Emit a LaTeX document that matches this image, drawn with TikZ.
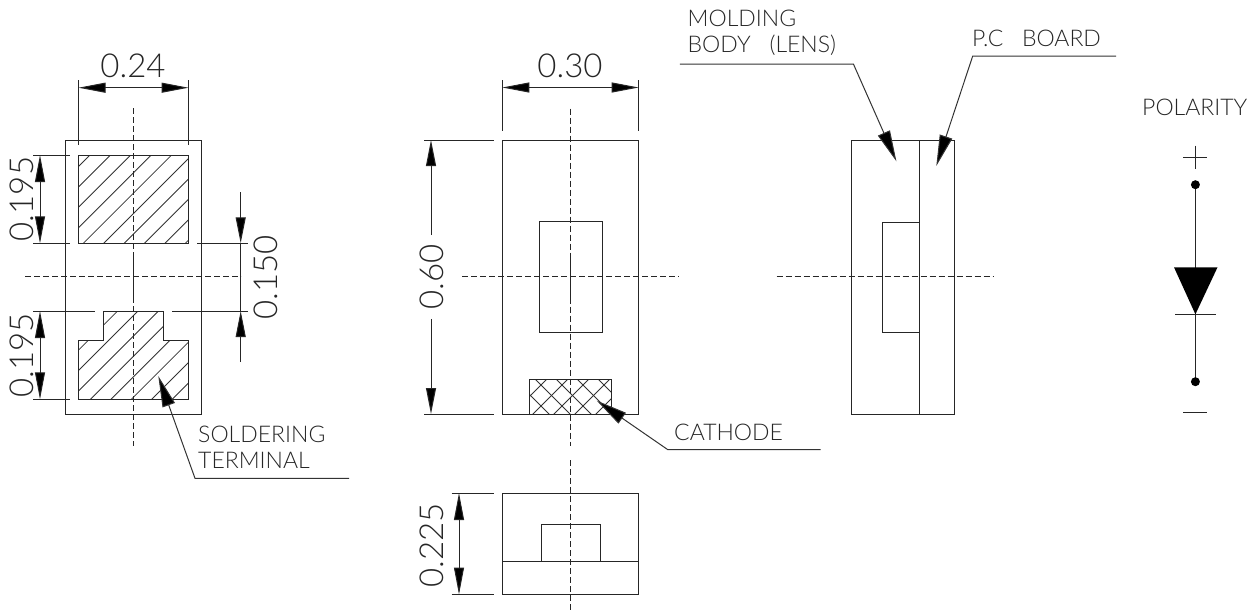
\documentclass[tikz,border=0pt]{standalone}
\usepackage{fontspec}
\setmainfont{Lato}[UprightFont=* Light, WordSpace=3]
\usetikzlibrary{arrows.meta}
\newcommand{\dimfs}{\fontsize{33}{33}\selectfont}
\newcommand{\lblfs}{\fontsize{23}{26}\selectfont}
\tikzset{
  outline/.style = {draw=black!85, line width=1pt},
  center/.style = {draw=black!85, line width=0.9pt, dash pattern=on 6pt off 3pt},
  extline/.style = {draw=black!85, line width=1pt},
  hatch/.style = {draw=black!80, line width=0.85pt},
  dimline/.style = {extline, {Triangle[length=27pt,width=10pt,fill=black]}-{Triangle[length=27pt,width=10pt,fill=black]}},
  inward/.style = {extline, -{Triangle[length=26pt,width=10pt,fill=black]}},
  leader/.style = {draw=black!80, line width=1pt, -{Triangle[length=31pt,width=13pt,fill=black]}},
  dimlabel/.style = {inner sep=0pt, text=black!85, font=\dimfs},
  partlabel/.style = {inner sep=0pt, text=black!85, font=\lblfs, anchor=west, align=left},
}

\begin{document}
\begin{tikzpicture}[x=1pt, y=-1pt]
  \useasboundingbox (0,0) rectangle (1257,614);
  % hatching
  \begin{scope}
    \clip (78.5,155) rectangle (188.5,243.3)
          (78.5,340.7) -- (103.3,340.7) -- (103.3,311) -- (163,311) -- (163,340.7)
          -- (188.5,340.7) -- (188.5,399.3) -- (78.5,399.3) -- cycle;
    \foreach \k in {0,...,17} {
      \draw[hatch] ({245+20.4*\k-100},100) -- ({245+20.4*\k-500},500);
    }
  \end{scope}
  \begin{scope}
    \clip (529.7,379.3) rectangle (611.7,414);
    \foreach \k in {-2,...,5} {
      \draw[hatch] ({926+21*\k-370},370) -- ({926+21*\k-420},420);
      \draw[hatch] ({156+21*\k+370},370) -- ({156+21*\k+420},420);
    }
  \end{scope}
  % outlines
  \foreach \xa/\ya/\xb/\yb in {65/140.5/201.5/414, 78.5/155/188.5/243.3, 502.3/140/638.7/414,
    539/221.5/602.3/332.8, 529.7/379.3/611.7/414, 502.3/493/638.7/594.5, 541.3/524.6/600/561,
    851/140/954/414, 882.7/222/919/332} {
    \draw[outline] (\xa,\ya) rectangle (\xb,\yb);
  }
  \draw[outline] (78.5,340.7) -- (103.3,340.7) -- (103.3,311) -- (163,311) -- (163,340.7)
    -- (188.5,340.7) -- (188.5,399.3) -- (78.5,399.3) -- cycle;
  \draw[outline] (502.3,561) -- (638.7,561);
  \draw[outline] (919,140) -- (919,414);
  % center lines
  \foreach \xa/\ya/\xb/\yb in {133.5/108/133.5/446, 25/276.7/241/276.7, 570.7/108.6/570.7/446,
    570.7/460/570.7/612, 462/276.7/678.7/276.7, 776.7/276.7/993.6/276.7} {
    \draw[center] (\xa,\ya) -- (\xb,\yb);
  }
  \draw[extline] (133.5,257) -- (133.5,297);
  \draw[extline] (570.7,257.7) -- (570.7,299);
  % extension lines
  \foreach \xa/\ya/\xb/\yb in {78.5/80/78.5/145, 188.5/80/188.5/145, 33/155/70/155, 33/243.3/70/243.3,
    33/311/95/311, 33/399.3/70/399.3, 197/243.3/248/243.3, 172/311/248/311,
    502.3/80/502.3/131, 638.7/80/638.7/131, 424/140/494/140, 424/414/494/414,
    451.7/493/494/493, 451.7/594.5/494/594.5} {
    \draw[extline] (\xa,\ya) -- (\xb,\yb);
  }
  % dimensions
  \node[dimlabel] (dimA) at (133,66) {0.24};
  \node[dimlabel] (dimB) at (570,66) {0.30};
  \node[dimlabel, rotate=90] (dimC) at (22,199) {0.195};
  \node[dimlabel, rotate=90] (dimD) at (22,355) {0.195};
  \node[dimlabel, rotate=90] (dimE) at (266,277) {0.150};
  \node[dimlabel, rotate=90] (dimF) at (431.5,277) {0.60};
  \node[dimlabel, rotate=90] (dimG) at (431.5,545) {0.225};
  \draw[dimline] (78.5,87.7) -- (188.5,87.7);
  \draw[dimline] (502.3,87.5) -- (638.7,87.5);
  \draw[dimline] (40,155) -- (40,243.3);
  \draw[dimline] (40,311) -- (40,399.3);
  \draw[dimline] (459,493) -- (459,594.5);
  \draw[inward] (240.7,192) -- (240.7,243.3);
  \draw[inward] (240.7,362) -- (240.7,311);
  \draw[extline] (240.7,243.3) -- (240.7,311);
  \draw[inward] (dimF.east) ++(-0.5,-9) -- (431,140);
  \draw[inward] (dimF.west) ++(-0.5,9) -- (431,414);
  % leaders and labels
  \node[partlabel] (solder) at (198,447.5) {SOLDERING\\TERMINAL};
  \node[partlabel] (cathode) at (674,432.6) {CATHODE};
  \node[partlabel] (molding) at (687.5,33) {MOLDING\\BODY (LENS)};
  \node[partlabel] (board) at (972,38) {P.C BOARD};
  \node[partlabel] (polarity) at (1142,107.7) {POLARITY};
  \draw[leader] (349,478.3) -- (195,478.3) -- (158.3,376);
  \draw[leader] (820.7,449.6) -- (667.7,449.6) -- (596.7,400.6);
  \draw[leader] (679.8,64) -- (853.4,64) -- (896.4,161.3);
  \draw[leader] (1116,56) -- (972.7,56) -- (936.3,166);
  % polarity symbol
  \draw[extline] (1183,157.7) -- (1207,157.7);
  \draw[extline] (1195.4,145.7) -- (1195.4,169.3);
  \draw[extline] (1195.4,184.7) -- (1195.4,381.7);
  \fill[black] (1195.4,184.7) circle (4.5);
  \fill[black] (1195.4,381.7) circle (4.5);
  \fill[black] (1174,267.3) -- (1217.5,267.3) -- (1195.4,314.3) -- cycle;
  \draw[extline] (1175,314.3) -- (1216,314.3);
  \draw[extline] (1183,412) -- (1207,412);
\end{tikzpicture}
\end{document}
